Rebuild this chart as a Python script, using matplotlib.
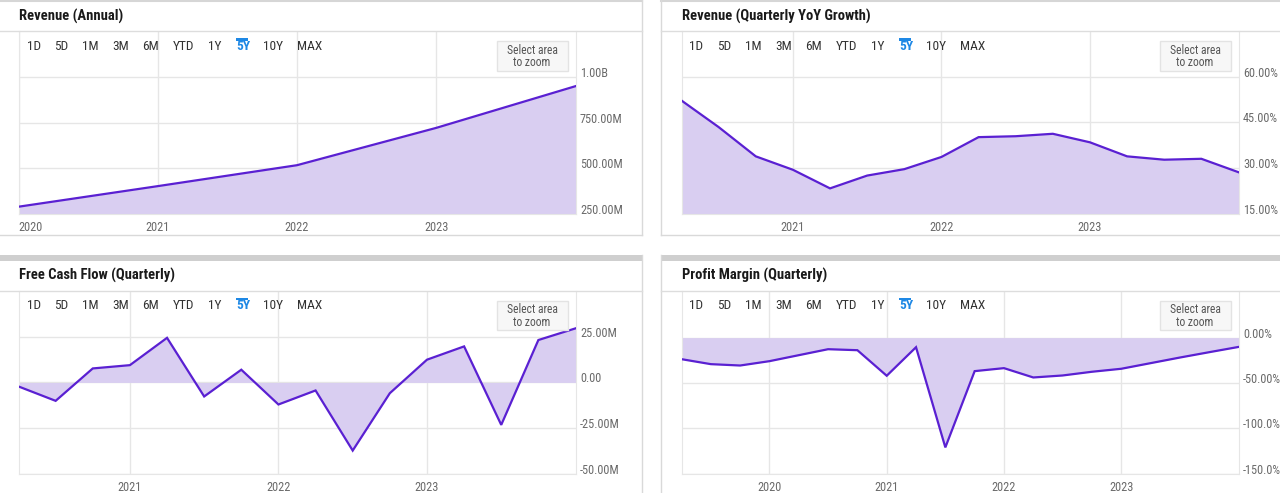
import matplotlib
matplotlib.use('Agg')
import matplotlib.pyplot as plt
from matplotlib import font_manager
from matplotlib.patches import Rectangle
from matplotlib.lines import Line2D
import pandas as pd

# ---- data ----
rev_years = [2020, 2021, 2022, 2023, 2024]
rev_annual = [290, 403, 518, 723, 952]  # millions

growth_q = pd.period_range('2020Q1', '2023Q4', freq='Q')
rev_growth = [52.2, 43.5, 33.9, 29.5, 23.4, 27.6, 29.7, 33.7,
              40.2, 40.5, 41.3, 38.5, 33.9, 32.8, 33.1, 28.7]  # %

fcf_q = pd.period_range('2020Q1', '2023Q4', freq='Q')
fcf = [-2.2, -10.1, 7.7, 9.5, 24.5, -7.7, 7.0, -12.1,
       -4.4, -37.4, -5.9, 12.5, 19.8, -23.3, 23.3, 29.7]  # millions

margin_q = pd.period_range('2019Q1', '2023Q4', freq='Q')
margin = [-23.8, -29.3, -30.8, -26.0, -19.4, -12.8, -13.9, -42.1,
          -10.6, -121.2, -37.0, -33.7, -44.0, -41.8, -37.7, -34.4,
          -28.2, -22.0, -16.1, -10.3]  # %

rev_ticks = [250, 500, 750, 1000]
rev_labels = ['250.00M', '500.00M', '750.00M', '1.00B']
growth_ticks = [15, 30, 45, 60]
growth_labels = ['15.00%', '30.00%', '45.00%', '60.00%']
fcf_ticks = [-50, -25, 0, 25]
fcf_labels = ['-50.00M', '-25.00M', '0.00', '25.00M']
margin_ticks = [-150, -100, -50, 0]
margin_labels = ['-150.0%', '-100.0%', '-50.00%', '0.00%']

buttons = ['1D', '5D', '1M', '3M', '6M', 'YTD', '1Y', '5Y', '10Y', 'MAX']
button_x = [26.5, 54.5, 82, 112.5, 142.5, 172.5, 208, 236, 263, 297]


def qx(periods):
    # quarter end as decimal year
    return [p.year + p.quarter / 4 for p in periods]


# pick a condensed face if one is installed, else shrink Roboto a bit
installed = font_manager.fontManager.ttflist
names = {f.name for f in installed}
STRETCH = 'normal'
SCALE = 1.0
if 'Roboto Condensed' in names:
    FONT = ['Roboto Condensed', 'DejaVu Sans']
elif 'Liberation Sans Narrow' in names:
    FONT = ['Liberation Sans Narrow', 'DejaVu Sans']
elif any(f.name == 'DejaVu Sans' and 'condensed' in str(f.stretch) for f in installed):
    FONT = ['DejaVu Sans']
    STRETCH = 'condensed'
    SCALE = 0.9
else:
    FONT = ['Roboto', 'DejaVu Sans']
    SCALE = 0.86

W, H = 1280, 493
LINE = '#5a20d2'
FILL = '#d9cef1'
GRID = '#e6e6e6'

fig = plt.figure(figsize=(W / 100, H / 100), dpi=100)
fig.patch.set_facecolor('white')


def fx(x):
    return x / W


def fy(y):
    return 1 - y / H


def frame(x0, x1, y0, y1, top_bar):
    if top_bar:
        fig.add_artist(Rectangle((fx(x0), fy(y0 + 6)), fx(x1 - x0), 6 / H,
                                 transform=fig.transFigure, color='#cfcfcf', lw=0))
    else:
        fig.add_artist(Line2D([fx(x0), fx(x1)], [fy(y0 + 0.5)] * 2, transform=fig.transFigure,
                              color='#d6d6d6', lw=1.5))
    fig.add_artist(Line2D([fx(x0), fx(x1)], [fy(y1)] * 2, transform=fig.transFigure,
                          color='#d9d9d9', lw=1))
    if x0 > 0:
        fig.add_artist(Line2D([fx(x0)] * 2, [fy(y0), fy(y1)], transform=fig.transFigure,
                              color='#d9d9d9', lw=1))
    if x1 < W:
        fig.add_artist(Line2D([fx(x1)] * 2, [fy(y0), fy(y1)], transform=fig.transFigure,
                              color='#d9d9d9', lw=1))


def panel(ox, oy, title, x, y, base, ylim, xlim, yticks, ylabels, xticks, first_left):
    # title + separator
    fig.text(fx(ox + 19), fy(oy + 16), title, fontsize=10.5 * SCALE, fontweight='bold',
             family=FONT, fontstretch=STRETCH, color='#1a1a1a', va='center', ha='left')
    fig.add_artist(Line2D([fx(ox if ox == 0 else ox - 2), fx(ox + 642 if ox == 0 else W)],
                          [fy(oy + 31)] * 2, transform=fig.transFigure, color='#dddddd', lw=1))

    ax = fig.add_axes([fx(ox + 18.5), fy(oy + 214), fx(557), (214 - 31) / H])
    ax.fill_between(x, y, base, color=FILL, lw=0, zorder=2)
    ax.plot(x, y, color=LINE, lw=1.6, zorder=3, solid_joinstyle='miter')
    ax.set_xlim(*xlim)
    ax.set_ylim(*ylim)
    ax.set_yticks(yticks)
    ax.set_yticklabels(ylabels)
    ax.set_xticks(xticks)
    ax.set_xticklabels([str(t) for t in xticks])
    ax.grid(True, color=GRID, lw=1, zorder=1)
    ax.tick_params(axis='y', left=False, labelleft=False, right=False, labelright=True,
                   length=0, pad=3.2, labelsize=8.8 * SCALE, labelcolor='#6a6a6a')
    ax.tick_params(axis='x', bottom=False, length=0, pad=5.2, labelsize=8.8 * SCALE,
                   labelcolor='#6a6a6a')
    for t in ax.get_yticklabels() + ax.get_xticklabels():
        t.set_family(FONT)
        t.set_stretch(STRETCH)
    for t in ax.get_yticklabels():
        t.set_verticalalignment('baseline')
    if first_left:
        ax.get_xticklabels()[0].set_horizontalalignment('left')
    for s in ['left', 'right', 'bottom']:
        ax.spines[s].set_color(GRID)
    ax.spines['top'].set_visible(False)
    ax.set_facecolor('none')

    # range buttons
    for b, bx in zip(buttons, button_x):
        fig.text(fx(ox + bx), fy(oy + 46), b, fontsize=9.6 * SCALE, family=FONT,
                 fontstretch=STRETCH,
                 color='#1e88e5' if b == '5Y' else '#333333',
                 fontweight='bold' if b == '5Y' else 'normal', va='center', ha='left')
    fig.add_artist(Rectangle((fx(ox + 236), fy(oy + 40.5)), fx(12), 2.5 / H,
                             transform=fig.transFigure, color='#1e88e5', lw=0))
    fig.add_artist(Rectangle((fx(ox + 497), fy(oy + 70.5)), fx(70.5), 29.5 / H,
                             transform=fig.transFigure, facecolor='#f7f7f7',
                             edgecolor='#e3e3e3', lw=1))
    fig.text(fx(ox + 532), fy(oy + 56.5), 'Select area\nto zoom', fontsize=8.4 * SCALE,
             family=FONT, fontstretch=STRETCH,
             color='#555555', va='center', ha='center', linespacing=0.95)
    return ax


frame(0, 642, 0, 235, False)
frame(661, W, 0, 235, False)
frame(0, 642, 255, H + 2, True)
frame(661, W, 255, H + 2, True)

panel(0, 0, 'Revenue (Annual)', rev_years, rev_annual, 250, (250, 1255), (2020, 2024),
      rev_ticks, rev_labels, [2020, 2021, 2022, 2023], True)
panel(663, 0, 'Revenue (Quarterly YoY Growth)', qx(growth_q), rev_growth, 15, (15, 75),
      (2020.25, 2024), growth_ticks, growth_labels, [2021, 2022, 2023], False)
panel(0, 259.5, 'Free Cash Flow (Quarterly)', qx(fcf_q), fcf, 0, (-50, 50.5),
      (2020.25, 2024), fcf_ticks, fcf_labels, [2021, 2022, 2023], False)
panel(663, 259.5, 'Profit Margin (Quarterly)', qx(margin_q), margin, 0, (-150, 52),
      (2019.25, 2024), margin_ticks, margin_labels, [2020, 2021, 2022, 2023], False)

plt.savefig('out.png', dpi=100, facecolor='white')
